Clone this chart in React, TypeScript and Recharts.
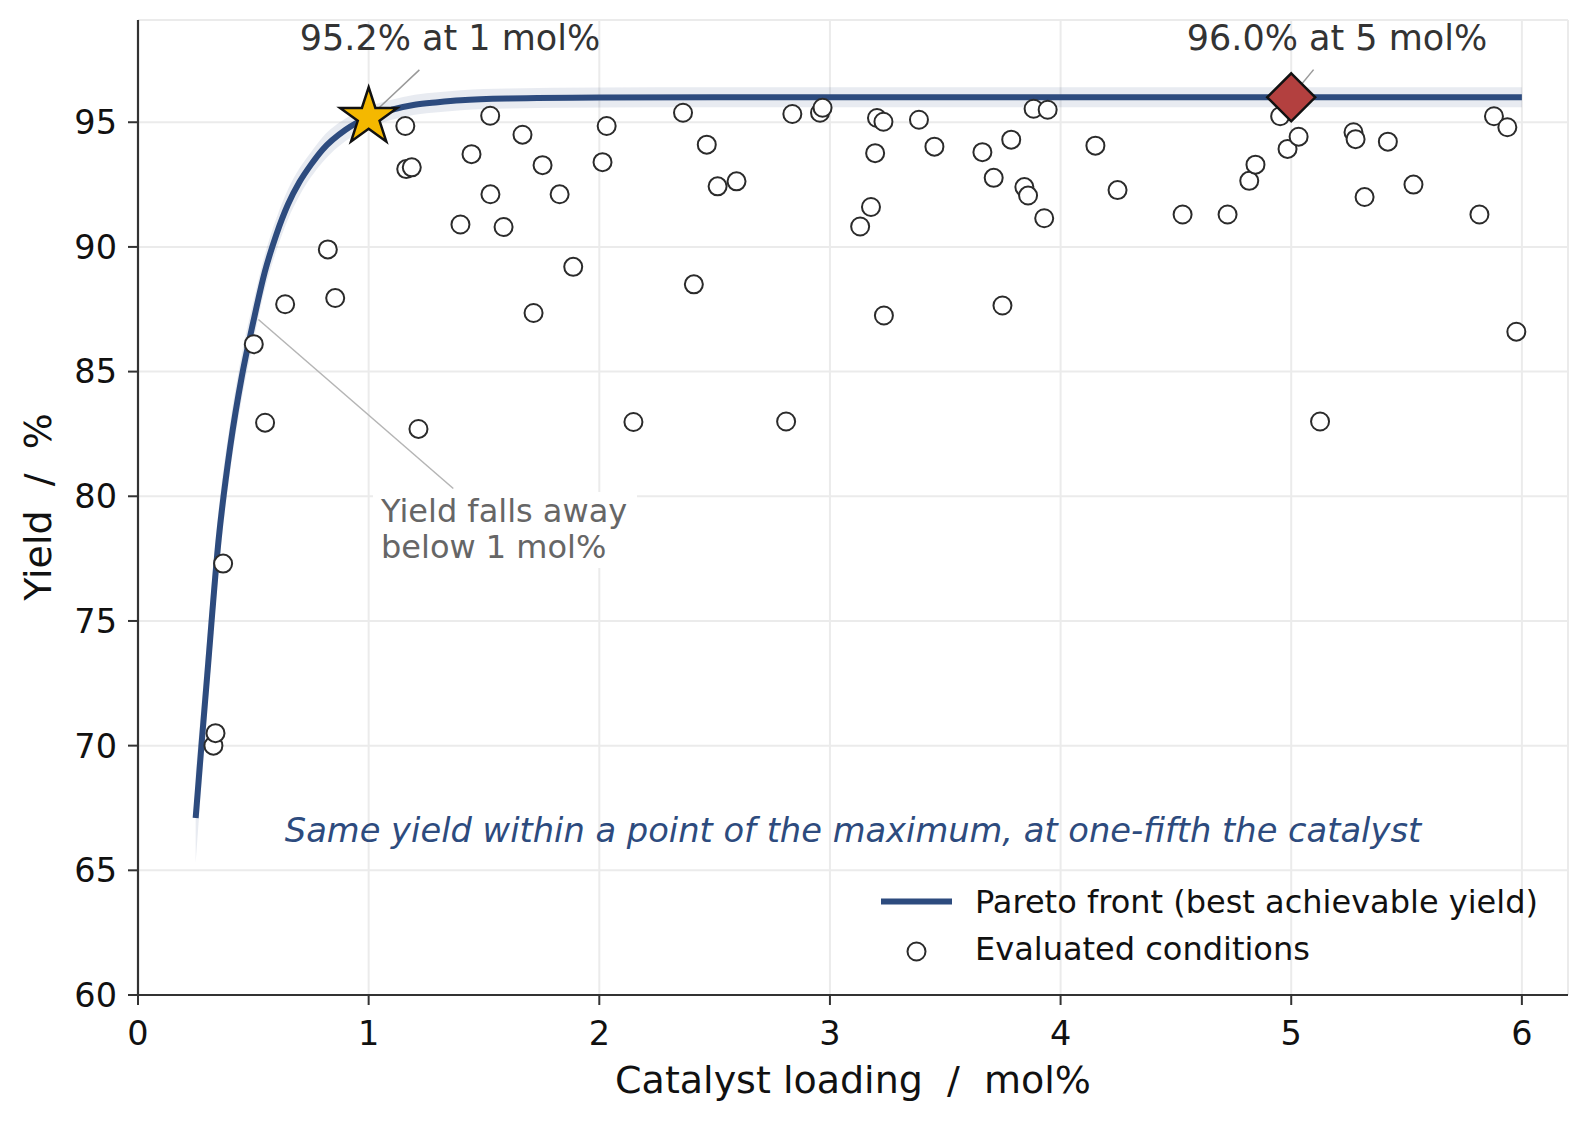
import React from "react";
import {
  ComposedChart,
  Area,
  Line,
  Scatter,
  XAxis,
  YAxis,
  CartesianGrid,
  ReferenceLine,
} from "recharts";

// Pareto front
const frontX = [0.25, 0.275, 0.3, 0.35, 0.4, 0.45, 0.5, 0.55, 0.6, 0.65, 0.7, 0.75, 0.8, 0.9, 1.0, 1.1, 1.2, 1.3, 1.4, 1.6, 2.0, 2.5, 3.0, 4.0, 5.0, 6.0];
const frontY = [67.1, 70.0, 72.8, 78.3, 82.0, 84.8, 87.0, 89.0, 90.5, 91.7, 92.6, 93.3, 93.9, 94.7, 95.2, 95.5, 95.7, 95.8, 95.88, 95.95, 95.99, 96.0, 96.0, 96.0, 96.0, 96.0];
const bandLo = [65.3, 68.4, 71.35, 77.1, 81.0, 83.9, 86.2, 88.3, 89.85, 91.1, 92.05, 92.8, 93.4, 94.25, 94.78, 95.1, 95.3, 95.4, 95.48, 95.55, 95.59, 95.6, 95.6, 95.6, 95.6, 95.6];
const bandHi = [68.9, 71.6, 74.25, 79.5, 83.0, 85.7, 87.8, 89.7, 91.15, 92.3, 93.15, 93.8, 94.4, 95.15, 95.62, 95.9, 96.1, 96.2, 96.28, 96.35, 96.39, 96.4, 96.4, 96.4, 96.4, 96.4];

// evaluated conditions
const evalX = [
  0.327, 0.336, 0.369, 0.502, 0.551, 0.638, 0.823, 0.855, 1.159, 1.163,
  1.187, 1.216, 1.398, 1.446, 1.527, 1.528, 1.585, 1.667, 1.715, 1.754,
  1.828, 1.887, 2.014, 2.032, 2.148, 2.363, 2.41, 2.466, 2.513, 2.595,
  2.81, 2.837, 2.957, 2.968, 3.131, 3.178, 3.196, 3.204, 3.232, 3.234,
  3.386, 3.453, 3.661, 3.71, 3.748, 3.786, 3.843, 3.859, 3.883, 3.929,
  3.944, 4.151, 4.247, 4.529, 4.724, 4.818, 4.845, 4.952, 4.984, 5.032,
  5.125, 5.27, 5.279, 5.318, 5.419, 5.53, 5.816, 5.879, 5.937, 5.976,
];
const evalY = [
  70.0, 70.5, 77.3, 86.1, 82.95, 87.7, 89.9, 87.95, 94.85, 93.12,
  93.19, 82.7, 90.9, 93.72, 95.26, 92.11, 90.8, 94.5, 87.35, 93.28,
  92.11, 89.2, 93.4, 94.85, 82.98, 95.38, 88.5, 94.1, 92.43, 92.63,
  83.0, 95.33, 95.38, 95.58, 90.82, 91.6, 93.76, 95.17, 95.02, 87.25,
  95.1, 94.02, 93.8, 92.77, 87.65, 94.3, 92.4, 92.06, 95.54, 91.15,
  95.5, 94.06, 92.28, 91.3, 91.3, 92.65, 93.3, 95.24, 93.93, 94.42,
  83.0, 94.6, 94.32, 92.0, 94.22, 92.5, 91.3, 95.24, 94.8, 86.6,
];

const chosen = [{ x: 1, y: 95.2 }];
const maximum = [{ x: 5, y: 96.0 }];

const xTicks = [0, 1, 2, 3, 4, 5, 6];
const yTicks = [60, 65, 70, 75, 80, 85, 90, 95];

const NAVY = "#2d4b7e";
const FONT = '"DejaVu Sans", sans-serif';

const frontData = frontX.map((x, i) => ({ x, y: frontY[i], band: [bandLo[i], bandHi[i]] }));
const evalData = evalX.map((x, i) => ({ x, y: evalY[i] }));

const OpenCircle = (props: any) => (
  <circle cx={props.cx} cy={props.cy} r={9} fill="#fff" stroke="#2b2b2b" strokeWidth={2} />
);

const StarMark = (props: any) => {
  const { cx, cy } = props;
  const R = 30;
  const r = R * 0.382;
  const pts: string[] = [];
  for (let i = 0; i < 10; i++) {
    const a = -Math.PI / 2 + (i * Math.PI) / 5;
    const rad = i % 2 === 0 ? R : r;
    pts.push(`${cx + rad * Math.cos(a)},${cy + rad * Math.sin(a)}`);
  }
  return <polygon points={pts.join(" ")} fill="#f4b800" stroke="#111" strokeWidth={2.5} strokeLinejoin="miter" />;
};

const DiamondMark = (props: any) => {
  const { cx, cy } = props;
  const h = 24;
  return (
    <polygon
      points={`${cx},${cy - h} ${cx + h},${cy} ${cx},${cy + h} ${cx - h},${cy}`}
      fill="#b3403f"
      stroke="#111"
      strokeWidth={2.5}
    />
  );
};

const tickStyle = { fontSize: 33.5, fill: "#111", fontFamily: FONT };

export default function App() {
  return (
    <div style={{ position: "absolute", left: 0, top: 0, width: 1589, height: 1124, background: "#fff", fontFamily: FONT }}>
      <ComposedChart
        width={1589}
        height={1124}
        data={frontData}
        margin={{ top: 20, right: 21, bottom: 0, left: 0 }}
      >
        <CartesianGrid stroke="#ebebeb" strokeWidth={2} />
        <XAxis
          type="number"
          dataKey="x"
          domain={[0, 6.2]}
          ticks={xTicks}
          allowDataOverflow
          height={129}
          tickSize={10}
          tickMargin={16}
          tick={tickStyle}
          axisLine={{ stroke: "#333", strokeWidth: 2.2 }}
          tickLine={{ stroke: "#333", strokeWidth: 2 }}
        />
        <YAxis
          type="number"
          dataKey="y"
          domain={[60, 99.1]}
          ticks={yTicks}
          allowDataOverflow
          width={138}
          tickSize={10}
          tickMargin={11}
          tick={tickStyle}
          axisLine={{ stroke: "#333", strokeWidth: 2.2 }}
          tickLine={{ stroke: "#333", strokeWidth: 2 }}
        />
        <Area
          type="monotone"
          dataKey="band"
          stroke="none"
          fill={NAVY}
          fillOpacity={0.11}
          isAnimationActive={false}
        />
        <Line
          type="monotone"
          dataKey="y"
          stroke={NAVY}
          strokeWidth={6}
          dot={false}
          activeDot={false}
          isAnimationActive={false}
        />
        <Scatter data={evalData} dataKey="y" shape={OpenCircle} isAnimationActive={false} />
        <Scatter data={chosen} dataKey="y" shape={StarMark} isAnimationActive={false} />
        <Scatter data={maximum} dataKey="y" shape={DiamondMark} isAnimationActive={false} />
        <ReferenceLine
          segment={[{ x: 1.22, y: 97.1 }, { x: 1.02, y: 95.36 }]}
          stroke="#999"
          strokeWidth={1.5}
          ifOverflow="visible"
        />
        <ReferenceLine
          segment={[{ x: 5.097, y: 97.11 }, { x: 5.017, y: 96.21 }]}
          stroke="#999"
          strokeWidth={1.5}
          ifOverflow="visible"
        />
        <ReferenceLine
          segment={[{ x: 1.367, y: 80.31 }, { x: 0.522, y: 87.09 }]}
          stroke="#b5b5b5"
          strokeWidth={1.5}
          ifOverflow="visible"
        />
      </ComposedChart>

      <svg
        width={1589}
        height={1124}
        style={{ position: "absolute", left: 0, top: 0, pointerEvents: "none" }}
        fontFamily={FONT}
      >
        {/* annotations */}
        <text x={450} y={50} fontSize={35} fill="#333" textAnchor="middle">95.2% at 1 mol%</text>
        <text x={1337} y={50} fontSize={35} fill="#333" textAnchor="middle">96.0% at 5 mol%</text>

        <rect x={373} y={492} width={264} height={76} fill="#fff" />
        <text x={381} y={522} fontSize={32} fill="#666">Yield falls away</text>
        <text x={381} y={558} fontSize={32} fill="#666">below 1 mol%</text>

        <text x={853} y={842} fontSize={33.7} fill={NAVY} fontStyle="italic" textAnchor="middle">
          Same yield within a point of the maximum, at one-fifth the catalyst
        </text>

        {/* legend */}
        <line x1={881} y1={901.5} x2={952} y2={901.5} stroke={NAVY} strokeWidth={6} />
        <text x={975} y={913} fontSize={32} fill="#111">Pareto front (best achievable yield)</text>
        <circle cx={916.5} cy={951.5} r={9} fill="#fff" stroke="#2b2b2b" strokeWidth={2} />
        <text x={975} y={960} fontSize={32} fill="#111">Evaluated conditions</text>

        {/* axis titles */}
        <text x={853} y={1093} fontSize={38} fill="#111" textAnchor="middle" style={{ whiteSpace: "pre" }}>
          {"Catalyst loading  /  mol%"}
        </text>
        <text
          x={51}
          y={507}
          fontSize={38}
          fill="#111"
          textAnchor="middle"
          transform="rotate(-90 51 507)"
          style={{ whiteSpace: "pre" }}
        >
          {"Yield  /  %"}
        </text>
      </svg>
    </div>
  );
}
